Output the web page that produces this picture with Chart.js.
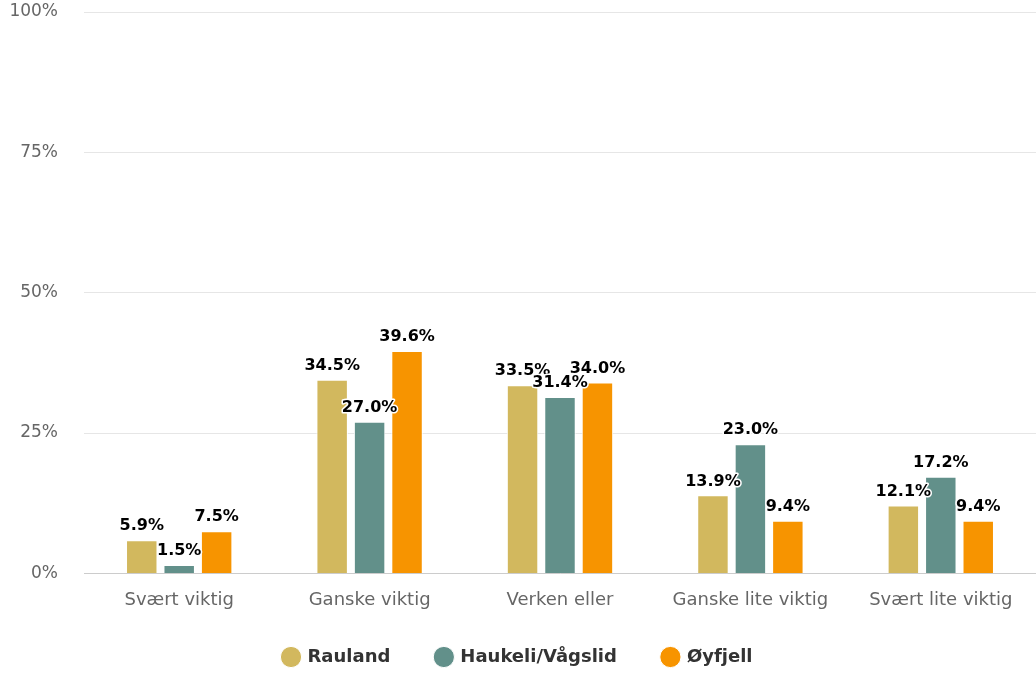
<!DOCTYPE html>
<html lang="no">
<head>
<meta charset="utf-8">
<title>Svar per område</title>
<script src="https://cdn.jsdelivr.net/npm/chart.js@4/dist/chart.umd.min.js"></script>
<style>
  html, body { margin: 0; padding: 0; background: #fff; }
  #boks { position: relative; width: 1036px; height: 674px; }
</style>
</head>
<body>
<div id="boks"><canvas id="graf"></canvas></div>
<script>
// Kategorier og verdier (prosent)
const kategorier = ['Svært viktig', 'Ganske viktig', 'Verken eller', 'Ganske lite viktig', 'Svært lite viktig'];
const rauland    = [5.9, 34.5, 33.5, 13.9, 12.1];
const haukeli    = [1.5, 27.0, 31.4, 23.0, 17.2];
const oyfjell    = [7.5, 39.6, 34.0, 9.4, 9.4];
const yTicks     = [0, 25, 50, 75, 100];

const FONT = '"DejaVu Sans", Verdana, sans-serif';

/* ── Verdietiketter over søylene ─────────────────────────── */
const etiketter = {
    id: 'etiketter',
    afterDatasetsDraw(chart) {
        const ctx = chart.ctx;
        ctx.save();
        ctx.font = 'bold 16px ' + FONT;
        ctx.textAlign = 'center';
        ctx.textBaseline = 'bottom';
        ctx.lineJoin = 'round';
        chart.data.datasets.forEach((ds, i) => {
            chart.getDatasetMeta(i).data.forEach((bar, j) => {
                const txt = ds.data[j].toFixed(1) + '%';
                ctx.lineWidth = 3;
                ctx.strokeStyle = '#fff';
                ctx.strokeText(txt, bar.x, bar.y - 6);
                ctx.fillStyle = '#000';
                ctx.fillText(txt, bar.x, bar.y - 6);
            });
        });
        ctx.restore();
    }
};

/* ── Legenden: stor avstand mellom elementene, men lav høyde ── */
const tettLegende = {
    id: 'tettLegende',
    beforeInit(chart) {
        const fit = chart.legend.fit;
        chart.legend.fit = function () {
            fit.call(this);
            this.height -= 27;
        };
    },
    afterLayout(chart) {
        chart.legend.top -= 25;
    }
};

const serie = (label, data, farge) => ({
    label, data,
    backgroundColor: farge,
    borderColor: '#fff',
    borderWidth: 1,
    categoryPercentage: 0.59,
    barPercentage: 0.84,
});

new Chart(document.getElementById('graf'), {
    type: 'bar',
    data: {
        labels: kategorier,
        datasets: [
            serie('Rauland', rauland, '#D2B85E'),
            serie('Haukeli/Vågslid', haukeli, '#62908A'),
            serie('Øyfjell', oyfjell, '#F79400'),
        ]
    },
    plugins: [etiketter, tettLegende],
    options: {
        responsive: true,
        maintainAspectRatio: false,
        animation: false,
        layout: { padding: 0 },
        plugins: {
            legend: {
                position: 'bottom',
                labels: {
                    usePointStyle: true,
                    pointStyle: 'circle',
                    boxWidth: 15,
                    boxHeight: 15,
                    padding: 46,
                    color: '#333',
                    font: { family: FONT, size: 18, weight: 'bold' }
                }
            },
            tooltip: { enabled: false }
        },
        scales: {
            x: {
                grid: { display: false, drawTicks: false },
                border: { color: '#ccc', width: 1 },
                ticks: { color: '#666', padding: 16, font: { family: FONT, size: 18 } }
            },
            y: {
                min: 0, max: 100,
                afterBuildTicks: ax => { ax.ticks = yTicks.map(v => ({ value: v })); },
                afterFit: ax => { ax.width = 84; ax.paddingTop = 12; ax.paddingBottom = 0; },
                grid: { color: '#e6e6e6', drawTicks: false },
                border: { display: false },
                ticks: {
                    color: '#666', padding: 26,
                    font: { family: FONT, size: 17 },
                    callback: v => v + '%'
                }
            }
        }
    }
});
</script>
</body>
</html>
